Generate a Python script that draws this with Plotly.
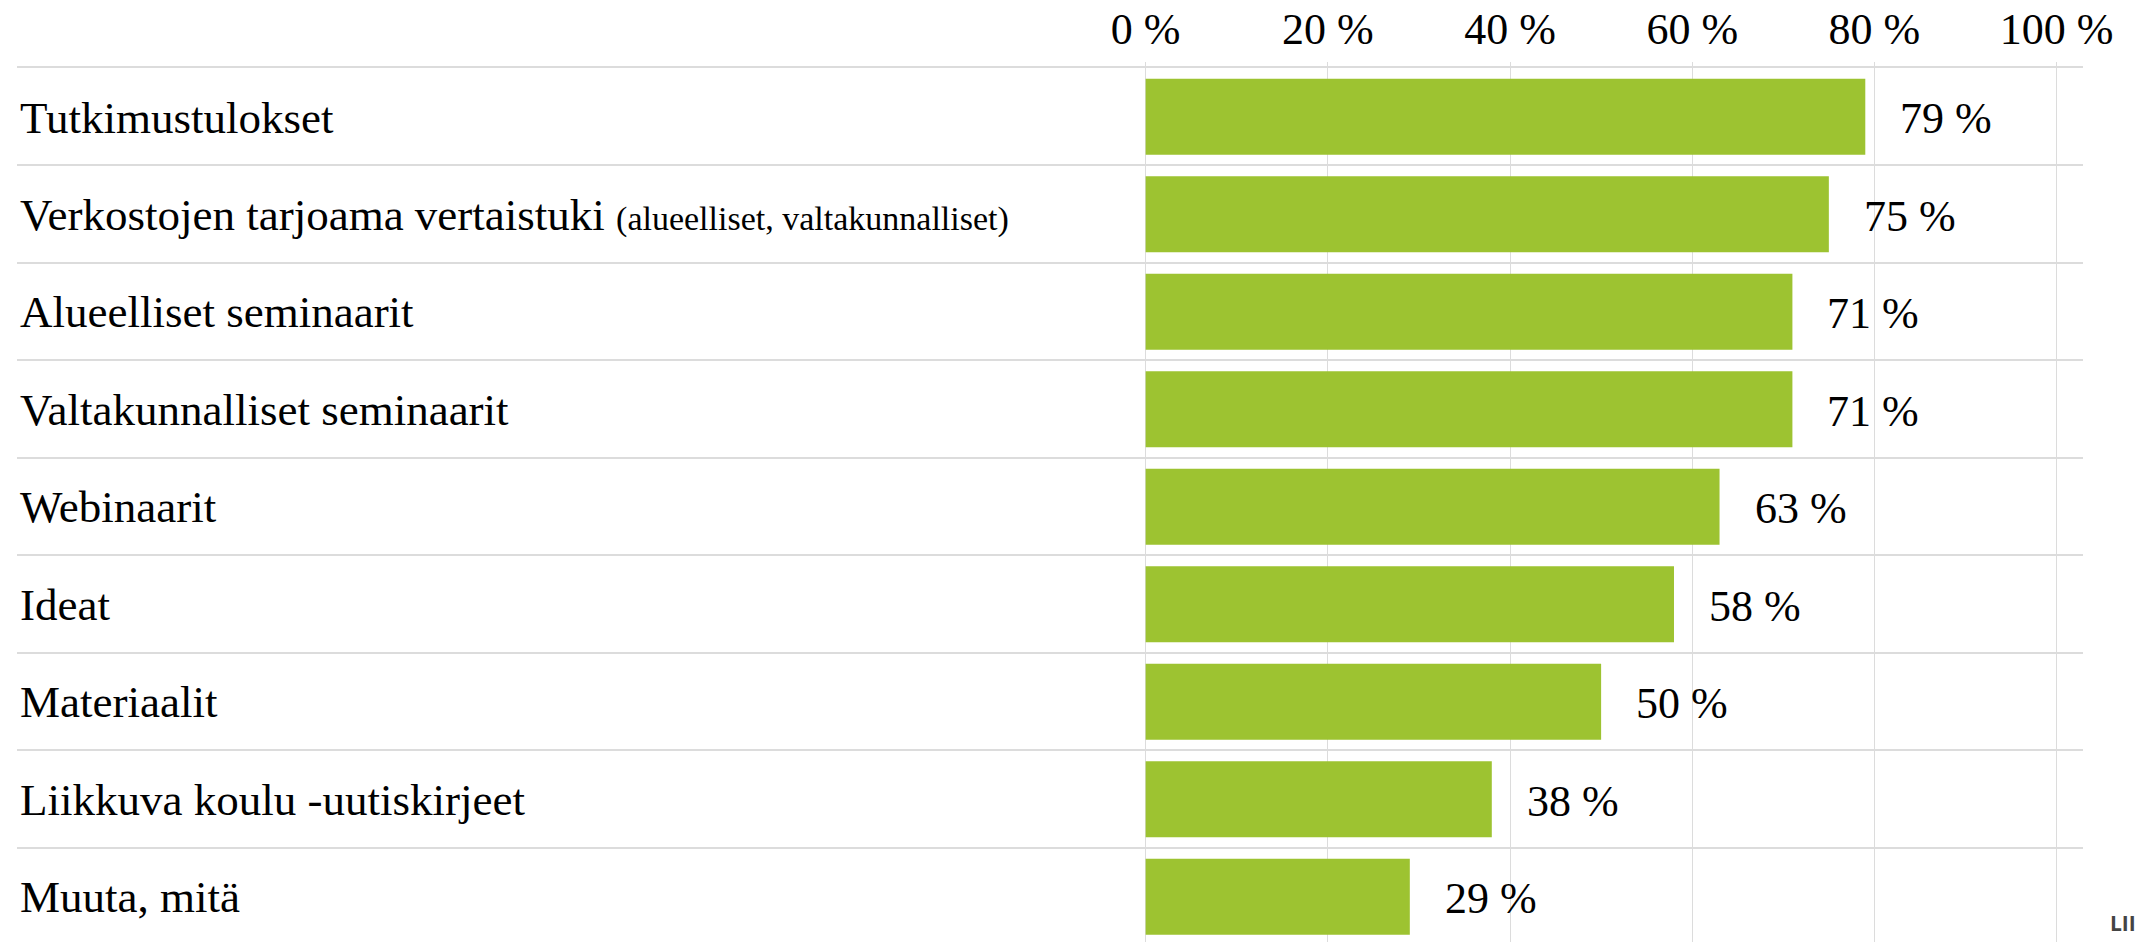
import plotly.graph_objects as go

categories = [
    "Tutkimustulokset",
    "Verkostojen tarjoama vertaistuki <span style='font-size:34px'>(alueelliset, valtakunnalliset)</span>",
    "Alueelliset seminaarit",
    "Valtakunnalliset seminaarit",
    "Webinaarit",
    "Ideat",
    "Materiaalit",
    "Liikkuva koulu -uutiskirjeet",
    "Muuta, mitä",
]
values = [79, 75, 71, 71, 63, 58, 50, 38, 29]
tick_values = [0, 20, 40, 60, 80, 100]
tick_labels = ["0 %", "20 %", "40 %", "60 %", "80 %", "100 %"]

BAR_COLOR = "#9DC331"
GRID = "#DCDCDC"
FONT = "Liberation Serif"

fig = go.Figure()
fig.add_trace(go.Bar(
    x=values,
    y=categories,
    orientation="h",
    marker=dict(color=BAR_COLOR, line=dict(width=0)),
    hoverinfo="skip",
))

for cat, v in zip(categories, values):
    fig.add_annotation(
        x=v, y=cat, xref="x", yref="y",
        text=f"{v} %", showarrow=False,
        xanchor="left", yanchor="middle", xshift=33, yshift=-2,
        font=dict(family=FONT, size=44, color="#000000"),
    )

fig.add_annotation(
    x=1.0121, y=0.004, xref="paper", yref="paper",
    text="<b>LII</b>", showarrow=False, xanchor="left", yanchor="bottom",
    font=dict(family="Open Sans", size=21, color="#444444"),
)

fig.update_layout(
    width=2141, height=942,
    margin=dict(l=17, r=58, t=68, b=0, pad=0, autoexpand=False),
    paper_bgcolor="white", plot_bgcolor="white",
    bargap=0.22,
    showlegend=False,
    font=dict(family=FONT, size=44, color="#000000"),
    xaxis=dict(
        side="top",
        automargin=False,
        range=[-123.9, 102.9],
        tickmode="array", tickvals=tick_values, ticktext=tick_labels,
        showgrid=True, gridcolor=GRID, gridwidth=1,
        zeroline=False,
        showline=True, linecolor=GRID, linewidth=2,
        ticks="outside", ticklen=4, tickcolor=GRID, tickwidth=1,
        tickfont=dict(family=FONT, size=44, color="#000000"),
        ticklabelstandoff=0,
        fixedrange=True,
    ),
    yaxis=dict(
        type="category",
        automargin=False,
        categoryorder="array", categoryarray=categories,
        range=[8.465, -0.5],
        tickson="boundaries",
        showgrid=True, gridcolor=GRID, gridwidth=2,
        ticks="", showline=False, zeroline=False,
        ticklabelposition="inside",
        tickfont=dict(family=FONT, size=45, color="#000000"),
        fixedrange=True,
    ),
)

fig.write_html(
    "out.html",
    config={"displayModeBar": False},
    post_script="document.body.style.margin='0px';",
)
